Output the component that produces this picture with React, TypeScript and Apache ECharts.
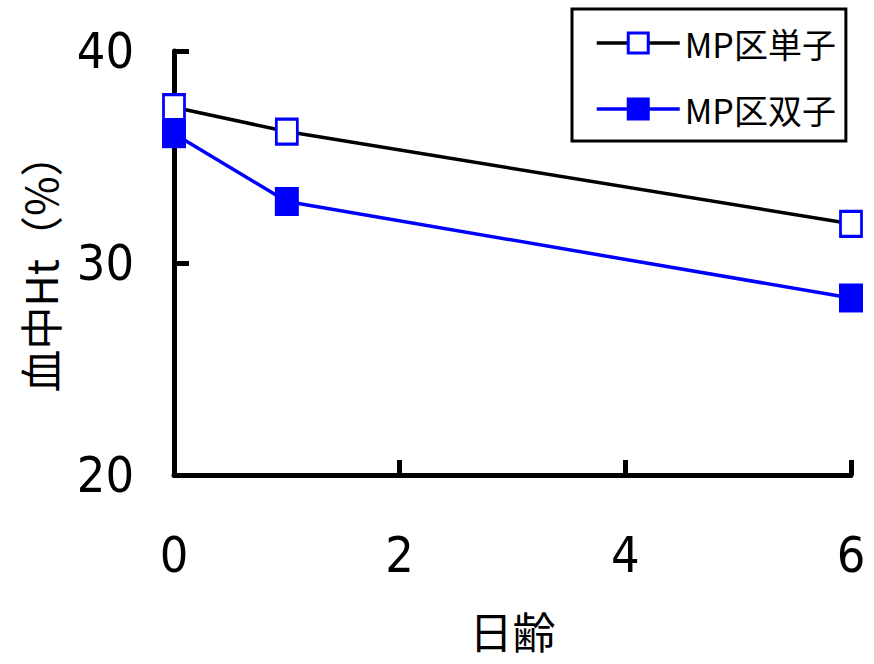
import React, { useEffect, useRef } from "react";
import * as echarts from "echarts";

// 日齢 (days of age)
const days = [0, 1, 6];
// 血中Ht (%) by group
const singleHt = [37.35, 36.2, 31.85]; // MP区単子
const twinHt = [36.1, 32.9, 28.35]; // MP区双子

const seriesNames = ["MP区単子", "MP区双子"];
const yTicks = { min: 20, max: 40, interval: 10 };
const xTicks = { min: 0, max: 6, interval: 2 };

const BLUE = "#0000ff";
const NUM_FONT = "'Liberation Sans Narrow', 'DejaVu Sans Condensed', 'Noto Sans', sans-serif";
const JP_FONT = "'Noto Sans CJK JP', sans-serif";

export default function App() {
  const ref = useRef<HTMLDivElement>(null);

  useEffect(() => {
    if (!ref.current) return;
    const chart = echarts.init(ref.current, undefined, { renderer: "svg" });

    const toPairs = (ys: number[]) => days.map((d, i) => [d, ys[i]]);

    chart.setOption({
      animation: false,
      backgroundColor: "#ffffff",
      grid: { left: 174, right: 23, top: 51, bottom: 189, containLabel: false },
      legend: {
        orient: "vertical",
        left: 572,
        top: 9,
        padding: [17, 10, 15, 23],
        borderColor: "#000",
        borderWidth: 3,
        itemWidth: 83,
        itemHeight: 25,
        itemGap: 32,
        itemTextGap: 9,
        data: seriesNames,
        itemStyle: { borderWidth: 3 },
        lineStyle: { width: 3.5 },
        textStyle: { fontFamily: JP_FONT, fontSize: 34, lineHeight: 34, color: "#000" },
      },
      xAxis: {
        type: "value",
        min: xTicks.min,
        max: xTicks.max,
        interval: xTicks.interval,
        name: "日齢",
        nameLocation: "middle",
        nameGap: 133,
        nameTextStyle: { fontFamily: JP_FONT, fontSize: 43, lineHeight: 43, color: "#000" },
        splitLine: { show: false },
        axisLine: { onZero: false, lineStyle: { color: "#000", width: 5 } },
        axisTick: { inside: true, length: 15, lineStyle: { color: "#000", width: 5 } },
        axisLabel: { margin: 55, fontFamily: NUM_FONT, fontSize: 50, color: "#000" },
      },
      yAxis: {
        type: "value",
        min: yTicks.min,
        max: yTicks.max,
        interval: yTicks.interval,
        name: "血中Ht（%）",
        nameLocation: "middle",
        nameGap: 114,
        nameTextStyle: { fontFamily: JP_FONT, fontSize: 43, color: "#000" },
        splitLine: { show: false },
        axisLine: { onZero: false, lineStyle: { color: "#000", width: 5 } },
        axisTick: { inside: true, length: 15, lineStyle: { color: "#000", width: 5 } },
        axisLabel: { margin: 40, fontFamily: NUM_FONT, fontSize: 50, color: "#000" },
      },
      series: [
        {
          name: seriesNames[1],
          type: "line",
          data: toPairs(twinHt),
          symbol: "rect",
          symbolSize: [24, 29],
          lineStyle: { color: BLUE, width: 3.5 },
          itemStyle: { color: BLUE, borderColor: BLUE, borderWidth: 0 },
        },
        {
          name: seriesNames[0],
          type: "line",
          data: toPairs(singleHt),
          symbol: "rect",
          symbolSize: [21, 25],
          lineStyle: { color: "#000", width: 3.5 },
          itemStyle: { color: "#ffffff", borderColor: BLUE, borderWidth: 3 },
        },
      ],
    });

    return () => chart.dispose();
  }, []);

  return (
    <div
      ref={ref}
      style={{ position: "absolute", left: 0, top: 0, width: 874, height: 664 }}
    />
  );
}
